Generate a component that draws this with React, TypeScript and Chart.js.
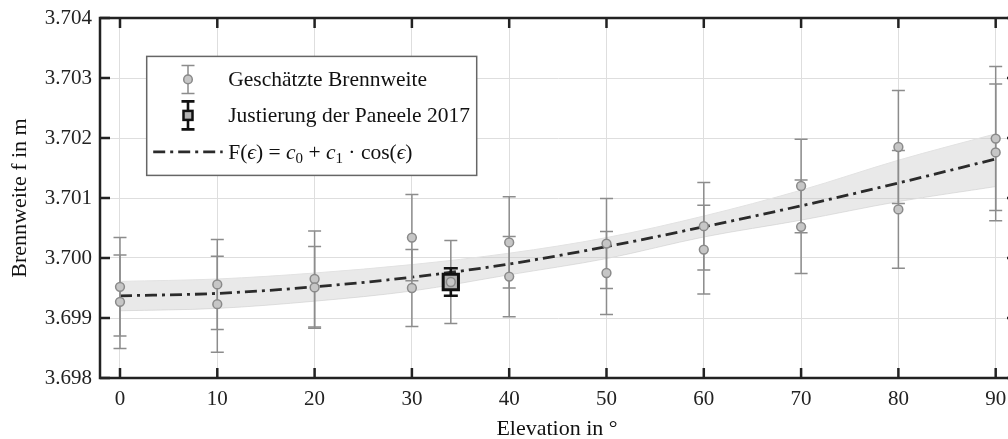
import React, { useEffect, useRef } from "react";
import { Chart, registerables } from "chart.js";

Chart.register(...registerables);

// ---- data ----
const elevationDeg = [0, 0, 10, 10, 20, 20, 30, 30, 34, 40, 40, 50, 50, 60, 60, 70, 70, 80, 80, 90, 90];
const focalLengthM = [
  3.69952, 3.69927, 3.69956, 3.69923, 3.69965, 3.69951, 3.70034, 3.6995, 3.6996, 3.70026, 3.69969,
  3.70024, 3.69975, 3.70053, 3.70014, 3.7012, 3.70052, 3.70185, 3.70081, 3.70199, 3.70176,
];
const focalErrorM = [
  0.00082, 0.00078, 0.00075, 0.0008, 0.0008, 0.00068, 0.00072, 0.00064, 0.00069, 0.00076, 0.00067,
  0.00075, 0.00069, 0.00073, 0.00074, 0.00078, 0.00078, 0.00094, 0.00098, 0.0012, 0.00114,
];

const adjustElevationDeg = [34];
const adjustFocalM = [3.6996];
const adjustErrorM = [0.00023];

const fitElevationDeg = [0, 10, 20, 30, 40, 50, 60, 70, 80, 90];
const fitFocalM = [3.69937, 3.69941, 3.69952, 3.69968, 3.6999, 3.70019, 3.70052, 3.70087, 3.70125, 3.70165];
const fitUpperM = [3.69961, 3.69965, 3.69975, 3.69989, 3.70008, 3.70034, 3.7007, 3.70113, 3.70163, 3.70207];
const fitLowerM = [3.69912, 3.69916, 3.69928, 3.69945, 3.69972, 3.69999, 3.70035, 3.70063, 3.70094, 3.70119];

const xTicks = [0, 10, 20, 30, 40, 50, 60, 70, 80, 90];
const yTicks = [3.698, 3.699, 3.7, 3.701, 3.702, 3.703, 3.704];

const legendLabels = ["Geschätzte Brennweite", "Justierung der Paneele 2017"];
const xTitle = "Elevation in °";
const yTitle = "Brennweite f in m";

// ---- style ----
const FONT = '"Liberation Serif", "Times New Roman", serif';
const GRAY_BAR = "#8c8c8c";
const DASH = [12, 5, 3, 5];

const errorBarPlugin = {
  id: "errorBars",
  afterDatasetDraw(chart: any, args: any) {
    const ds = chart.data.datasets[args.index];
    if (ds.label !== "fit") return;
    const { ctx, scales } = chart;
    const x = scales.x;
    const y = scales.y;
    ctx.save();
    ctx.strokeStyle = GRAY_BAR;
    ctx.lineWidth = 1.5;
    elevationDeg.forEach((e, i) => {
      const px = x.getPixelForValue(e);
      const t = y.getPixelForValue(focalLengthM[i] + focalErrorM[i]);
      const b = y.getPixelForValue(focalLengthM[i] - focalErrorM[i]);
      ctx.beginPath();
      ctx.moveTo(px, t);
      ctx.lineTo(px, b);
      ctx.moveTo(px - 6.5, t);
      ctx.lineTo(px + 6.5, t);
      ctx.moveTo(px - 6.5, b);
      ctx.lineTo(px + 6.5, b);
      ctx.stroke();
    });
    ctx.strokeStyle = "#111";
    ctx.lineWidth = 2.6;
    adjustElevationDeg.forEach((e, i) => {
      const px = x.getPixelForValue(e);
      const t = y.getPixelForValue(adjustFocalM[i] + adjustErrorM[i]);
      const b = y.getPixelForValue(adjustFocalM[i] - adjustErrorM[i]);
      ctx.beginPath();
      ctx.moveTo(px, t);
      ctx.lineTo(px, b);
      ctx.moveTo(px - 7, t);
      ctx.lineTo(px + 7, t);
      ctx.moveTo(px - 7, b);
      ctx.lineTo(px + 7, b);
      ctx.stroke();
    });
    ctx.restore();
  },
};

const axesPlugin = {
  id: "axesBox",
  afterDatasetsDraw(chart: any) {
    const { ctx, chartArea, scales } = chart;
    const { left, right, top, bottom } = chartArea;
    ctx.save();
    ctx.strokeStyle = "#222";
    ctx.lineWidth = 2.5;
    ctx.beginPath();
    ctx.moveTo(left, top);
    ctx.lineTo(right, top);
    ctx.lineTo(right, bottom);
    ctx.lineTo(left, bottom);
    ctx.closePath();
    ctx.stroke();
    const L = 10;
    ctx.beginPath();
    xTicks.forEach((v) => {
      const px = scales.x.getPixelForValue(v);
      ctx.moveTo(px, bottom);
      ctx.lineTo(px, bottom - L);
      ctx.moveTo(px, top);
      ctx.lineTo(px, top + L);
    });
    yTicks.forEach((v) => {
      const py = scales.y.getPixelForValue(v);
      ctx.moveTo(left, py);
      ctx.lineTo(left + L, py);
      ctx.moveTo(right, py);
      ctx.lineTo(right - L, py);
    });
    ctx.stroke();

    // axis titles
    ctx.fillStyle = "#111";
    ctx.font = `22px ${FONT}`;
    ctx.textAlign = "center";
    ctx.textBaseline = "alphabetic";
    ctx.fillText(xTitle, 557, 435);
    ctx.save();
    ctx.translate(26, (top + bottom) / 2);
    ctx.rotate(-Math.PI / 2);
    ctx.fillText(yTitle, 0, 0);
    ctx.restore();
    ctx.restore();
  },
};

const legendPlugin = {
  id: "customLegend",
  afterDraw(chart: any) {
    const { ctx, chartArea } = chart;
    const bx = chartArea.left + 46.7;
    const by = chartArea.top + 38.4;
    const bw = 330;
    const bh = 119;
    ctx.save();
    ctx.fillStyle = "#fff";
    ctx.fillRect(bx, by, bw, bh);
    ctx.strokeStyle = "#666";
    ctx.lineWidth = 1.5;
    ctx.strokeRect(bx, by, bw, bh);

    const mx = bx + 41.3;
    const tx = bx + 81.5;
    const r1 = by + 23;
    const r2 = by + 59;
    const r3 = by + 95.5;

    // row 1: gray error bar + circle
    ctx.strokeStyle = GRAY_BAR;
    ctx.lineWidth = 1.5;
    ctx.beginPath();
    ctx.moveTo(mx, r1 - 14);
    ctx.lineTo(mx, r1 + 14);
    ctx.moveTo(mx - 6.5, r1 - 14);
    ctx.lineTo(mx + 6.5, r1 - 14);
    ctx.moveTo(mx - 6.5, r1 + 14);
    ctx.lineTo(mx + 6.5, r1 + 14);
    ctx.stroke();
    ctx.beginPath();
    ctx.arc(mx, r1, 4.3, 0, Math.PI * 2);
    ctx.fillStyle = "#c6c6c6";
    ctx.fill();
    ctx.strokeStyle = "#8a8a8a";
    ctx.stroke();

    // row 2: black error bar + square
    ctx.strokeStyle = "#111";
    ctx.lineWidth = 2.6;
    ctx.beginPath();
    ctx.moveTo(mx, r2 - 14);
    ctx.lineTo(mx, r2 + 14);
    ctx.moveTo(mx - 6.5, r2 - 14);
    ctx.lineTo(mx + 6.5, r2 - 14);
    ctx.moveTo(mx - 6.5, r2 + 14);
    ctx.lineTo(mx + 6.5, r2 + 14);
    ctx.stroke();
    ctx.fillStyle = "#b3b3b3";
    ctx.fillRect(mx - 4.5, r2 - 4.5, 9, 9);
    ctx.lineWidth = 2.5;
    ctx.strokeRect(mx - 4.5, r2 - 4.5, 9, 9);

    // row 3: dash-dot line
    ctx.strokeStyle = "#2b2b2b";
    ctx.lineWidth = 2.8;
    ctx.setLineDash(DASH);
    ctx.beginPath();
    ctx.moveTo(bx + 6.5, r3);
    ctx.lineTo(bx + 76, r3);
    ctx.stroke();
    ctx.setLineDash([]);

    // texts
    ctx.fillStyle = "#111";
    ctx.textAlign = "left";
    ctx.textBaseline = "alphabetic";
    ctx.font = `21.5px ${FONT}`;
    ctx.fillText(legendLabels[0], tx, r1 + 6.5);
    ctx.fillText(legendLabels[1], tx, r2 + 6.5);

    const parts = [
      { t: "F(", s: "n" },
      { t: "ϵ", s: "i" },
      { t: ") = ", s: "n" },
      { t: "c", s: "i" },
      { t: "0", s: "sub" },
      { t: " + ", s: "n" },
      { t: "c", s: "i" },
      { t: "1", s: "sub" },
      { t: " · cos(", s: "n" },
      { t: "ϵ", s: "i" },
      { t: ")", s: "n" },
    ];
    let cx = tx;
    const base = r3 + 7;
    parts.forEach((p) => {
      if (p.s === "i") ctx.font = `italic 21.5px ${FONT}`;
      else if (p.s === "sub") ctx.font = `15px ${FONT}`;
      else ctx.font = `21.5px ${FONT}`;
      const yy = p.s === "sub" ? base + 4 : base;
      ctx.fillText(p.t, cx, yy);
      cx += ctx.measureText(p.t).width;
    });
    ctx.restore();
  },
};

export default function App() {
  const ref = useRef<HTMLCanvasElement>(null);
  useEffect(() => {
    const canvas = ref.current;
    if (!canvas) return;
    const chart = new Chart(canvas, {
      type: "scatter",
      data: {
        datasets: [
          {
            label: "lower",
            data: fitElevationDeg.map((e, i) => ({ x: e, y: fitLowerM[i] })),
            showLine: true,
            borderColor: "#e2e2e2",
            borderWidth: 1,
            pointRadius: 0,
            pointHoverRadius: 0,
            cubicInterpolationMode: "monotone",
            fill: false,
            order: 6,
          },
          {
            label: "upper",
            data: fitElevationDeg.map((e, i) => ({ x: e, y: fitUpperM[i] })),
            showLine: true,
            borderColor: "#e2e2e2",
            borderWidth: 1,
            backgroundColor: "rgba(200,200,200,0.4)",
            pointRadius: 0,
            pointHoverRadius: 0,
            cubicInterpolationMode: "monotone",
            fill: "-1",
            order: 5,
          },
          {
            label: "fit",
            data: fitElevationDeg.map((e, i) => ({ x: e, y: fitFocalM[i] })),
            showLine: true,
            borderColor: "#2b2b2b",
            borderWidth: 2.8,
            borderDash: DASH,
            pointRadius: 0,
            pointHoverRadius: 0,
            cubicInterpolationMode: "monotone",
            fill: false,
            order: 4,
          },
          {
            label: "adjust",
            data: adjustElevationDeg.map((e, i) => ({ x: e, y: adjustFocalM[i] })),
            pointStyle: "rect",
            pointRadius: 10.8,
            backgroundColor: "#b3b3b3",
            borderColor: "#111",
            borderWidth: 3,
            order: 2,
          },
          {
            label: "estimates",
            data: elevationDeg.map((e, i) => ({ x: e, y: focalLengthM[i] })),
            pointStyle: "circle",
            pointRadius: 4.4,
            backgroundColor: "#c6c6c6",
            borderColor: "#8a8a8a",
            borderWidth: 1.5,
            order: 1,
          },
        ],
      },
      options: {
        responsive: false,
        animation: false,
        events: [],
        layout: { autoPadding: false, padding: { top: 18, left: 0, right: 0, bottom: 0 } },
        plugins: { legend: { display: false }, tooltip: { enabled: false } },
        scales: {
          x: {
            type: "linear",
            min: -2.0555,
            max: 92.19,
            afterBuildTicks: (scale: any) => {
              scale.ticks = xTicks.map((v) => ({ value: v }));
            },
            afterFit: (scale: any) => {
              scale.height = 61;
              scale.paddingLeft = 0;
              scale.paddingRight = 0;
            },
            grid: { color: "#dedede", lineWidth: 1, drawTicks: false },
            border: { display: false },
            ticks: {
              padding: 9,
              color: "#222",
              font: { family: FONT, size: 21 },
              callback: (v: any) => String(v),
              maxRotation: 0,
            },
          },
          y: {
            type: "linear",
            min: 3.698,
            max: 3.704,
            afterBuildTicks: (scale: any) => {
              scale.ticks = yTicks.map((v) => ({ value: v }));
            },
            afterFit: (scale: any) => {
              scale.width = 100;
              scale.paddingTop = 0;
              scale.paddingBottom = 0;
            },
            grid: { color: "#dedede", lineWidth: 1, drawTicks: false },
            border: { display: false },
            ticks: {
              padding: 8,
              color: "#222",
              font: { family: FONT, size: 21 },
              callback: (v: any) => Number(v).toFixed(3),
            },
          },
        },
      },
      plugins: [errorBarPlugin, axesPlugin, legendPlugin],
    } as any);
    return () => chart.destroy();
  }, []);
  return (
    <div
      style={{
        position: "fixed",
        left: 0,
        top: 0,
        width: 1008,
        height: 439,
        overflow: "hidden",
        background: "#fff",
      }}
    >
      <canvas ref={ref} width={1017} height={439} style={{ display: "block", width: 1017, height: 439 }} />
    </div>
  );
}
